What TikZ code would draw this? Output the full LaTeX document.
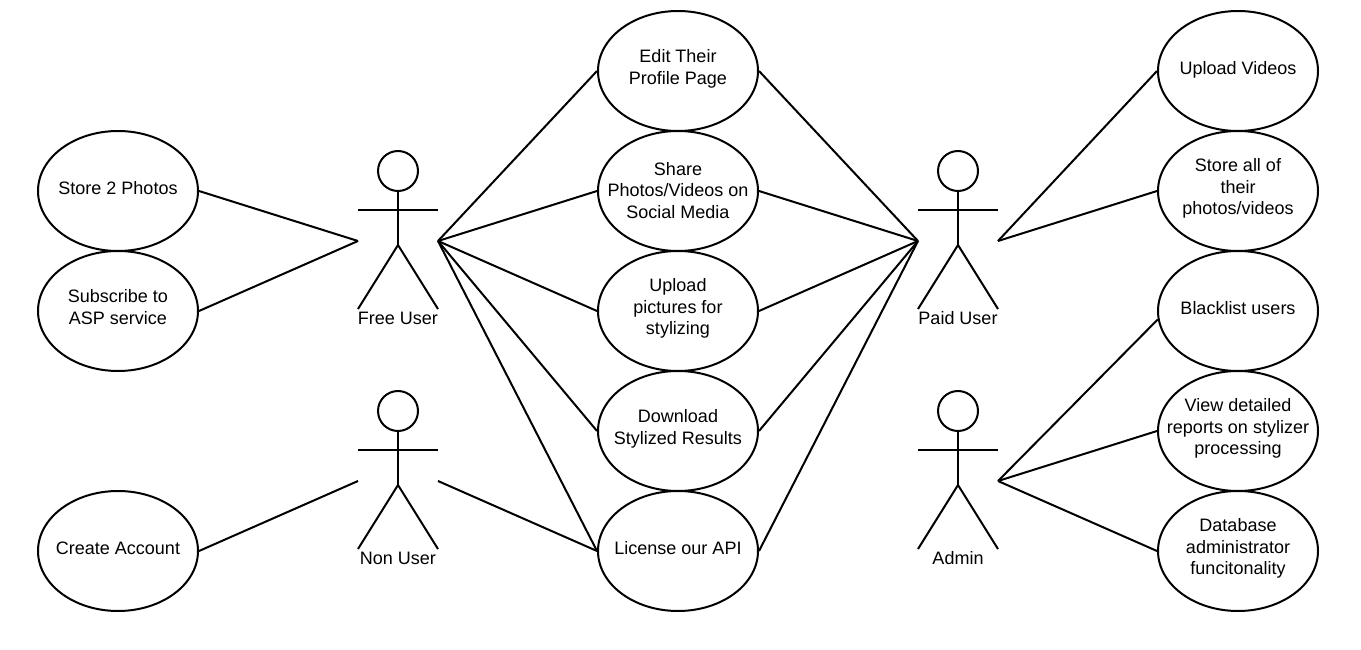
\documentclass[tikz,border=0pt]{standalone}
\usepackage{fontspec}
\setmainfont{Liberation Sans}
\usetikzlibrary{shapes.geometric}
\tikzset{
  x=1pt,y=-1pt,
  usecase/.style={draw=black,line width=2pt,ellipse,minimum width=160pt,minimum height=120pt,inner sep=0pt},
  uctext/.style={align=center,font=\fontsize{18}{21.7}\selectfont,inner sep=0pt,yshift=-2.5pt,
    execute at begin node=\strut,execute at end node=\strut},
  actorlabel/.style={uctext},
  link/.style={draw=black,line width=2pt},
}
\newcommand{\ucase}[5]{\node[usecase] (#1) at (#2,#3) {};\node[uctext] (#1t) at (#2,#4) {#5};}
\newcommand{\actor}[4]{%
  \node[draw=black,line width=2pt,circle,minimum size=40pt,inner sep=0pt] (#1head) at (#2,#3-70) {};
  \coordinate (#1hip) at (#2,#3+4);
  \coordinate (#1la) at (#2-40,#3-31);
  \coordinate (#1ra) at (#2+40,#3-31);
  \coordinate (#1ll) at (#2-40,#3+68);
  \coordinate (#1rl) at (#2+40,#3+68);
  \coordinate (#1L) at (#2-40,#3);
  \coordinate (#1R) at (#2+40,#3);
  \draw[link] (#1head.south) -- (#1hip);
  \draw[link] (#1la) -- (#1ra);
  \draw[link,line join=miter] (#1ll) -- (#1hip) -- (#1rl);
  \node[actorlabel] (#1name) at (#2,#3+76.5) {#4};
}
\begin{document}
\begin{tikzpicture}
\useasboundingbox (0,0) rectangle (1361,650);
\fill[white] (0,0) rectangle (1361,650);
\ucase{store}{118}{191}{188}{Store 2 Photos}
\ucase{subs}{118}{311}{308}{Subscribe to\\ASP service}
\ucase{create}{118}{551}{548}{Create Account}
\ucase{edit}{678}{71}{68}{Edit Their\\Profile Page}
\ucase{share}{678}{191}{191}{Share\\Photos/Videos on\\Social Media}
\ucase{upload}{678}{311}{307.5}{Upload\\pictures for\\stylizing}
\ucase{down}{678}{431}{428}{Download\\Stylized Results}
\ucase{api}{678}{551}{548}{License our API}
\ucase{vid}{1238}{71}{68}{Upload Videos}
\ucase{all}{1238}{191}{187.5}{Store all of\\their\\photos/videos}
\ucase{black}{1238}{311}{308}{Blacklist users}
\ucase{report}{1238}{431}{427.5}{View detailed\\reports on stylizer\\processing}
\ucase{db}{1238}{551}{547.5}{Database\\administrator\\funcitonality}
\actor{free}{398}{241}{Free User}
\actor{non}{398}{481}{Non User}
\actor{paid}{958}{241}{Paid User}
\actor{admin}{958}{481}{Admin}
\foreach \u in {store,subs} \draw[link] (\u.east) -- (freeL);
\draw[link] (create.east) -- (nonL);
\foreach \u in {edit,share,upload,down,api} \draw[link] (freeR) -- (\u.west);
\draw[link] (nonR) -- (api.west);
\foreach \u in {edit,share,upload,down,api} \draw[link] (\u.east) -- (paidL);
\foreach \u in {vid,all} \draw[link] (paidR) -- (\u.west);
\draw[link] (adminR) -- (black.186.5);
\foreach \u in {report,db} \draw[link] (adminR) -- (\u.west);
\end{tikzpicture}
\end{document}
